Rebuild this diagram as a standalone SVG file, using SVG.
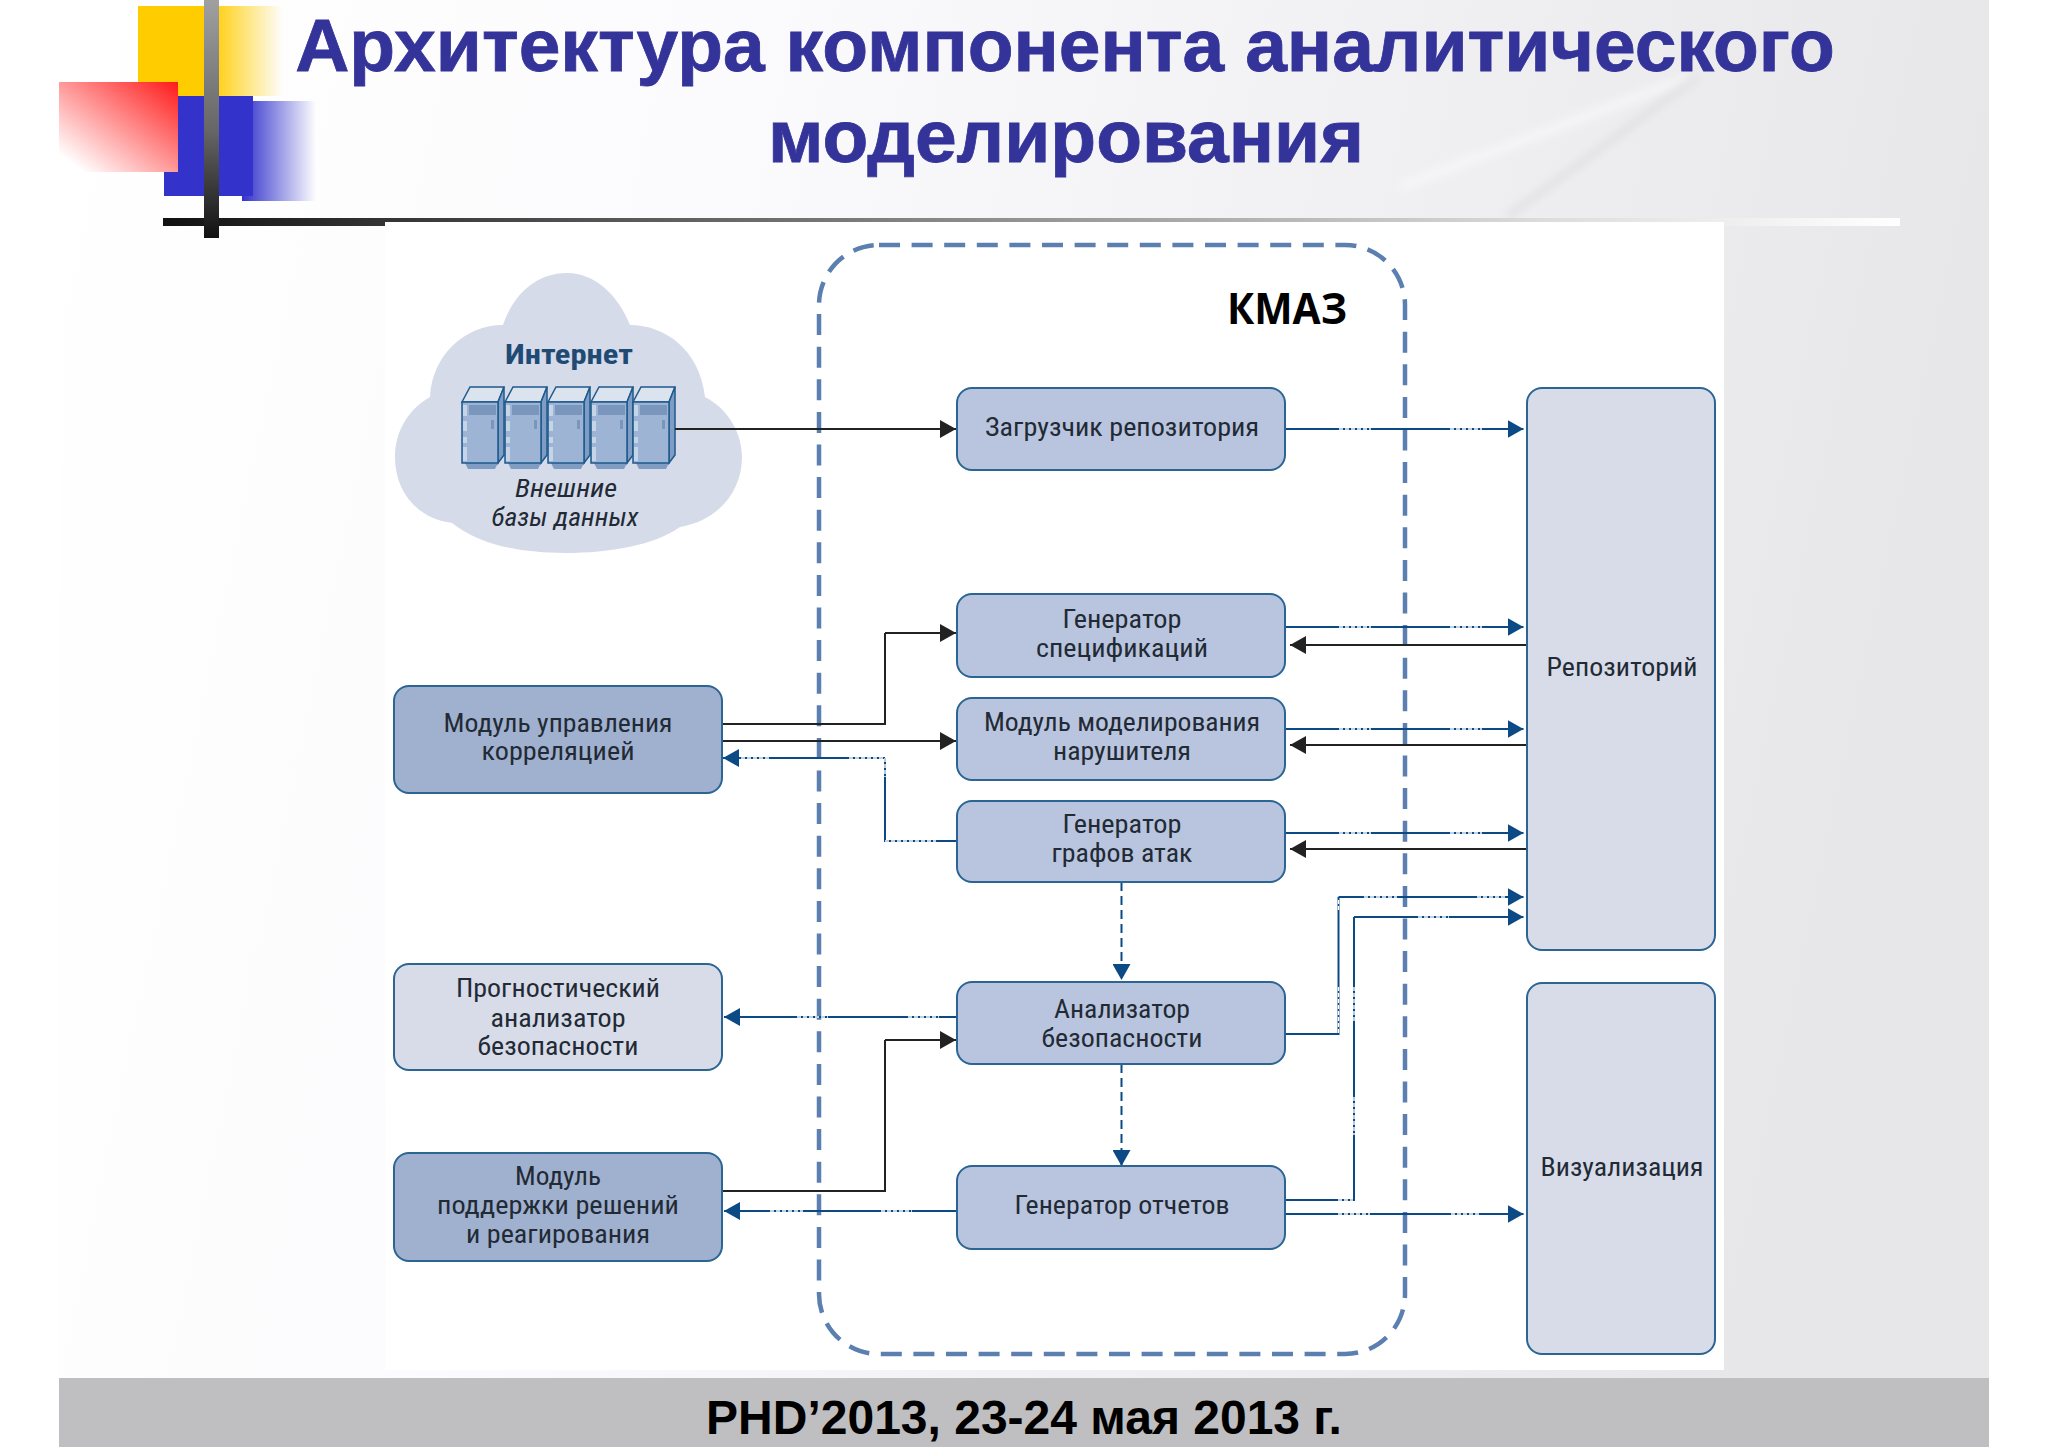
<svg xmlns="http://www.w3.org/2000/svg" xmlns:xlink="http://www.w3.org/1999/xlink" width="2048" height="1448" viewBox="0 0 2048 1448">
<defs>
<linearGradient id="bg" x1="0" y1="0" x2="1" y2="0.15"><stop offset="0" stop-color="#ffffff"/><stop offset="0.35" stop-color="#fbfbfd"/><stop offset="0.7" stop-color="#f0f0f2"/><stop offset="1" stop-color="#e7e7ea"/></linearGradient>
<linearGradient id="yel" x1="0" y1="0" x2="1" y2="0"><stop offset="0" stop-color="#ffcc00"/><stop offset="0.5" stop-color="#ffcc00"/><stop offset="1" stop-color="#ffcc00" stop-opacity="0"/></linearGradient>
<linearGradient id="blu" x1="0" y1="0" x2="1" y2="0"><stop offset="0" stop-color="#3333cc"/><stop offset="1" stop-color="#3333cc" stop-opacity="0"/></linearGradient>
<linearGradient id="red" x1="1" y1="0" x2="0" y2="1"><stop offset="0" stop-color="#ff1a1a"/><stop offset="0.9" stop-color="#ffffff"/></linearGradient>
<linearGradient id="bar" x1="0" y1="0" x2="0" y2="1"><stop offset="0" stop-color="#a0a0a0"/><stop offset="0.55" stop-color="#666"/><stop offset="1" stop-color="#111"/></linearGradient>
<linearGradient id="rule" x1="0" y1="0" x2="1" y2="0"><stop offset="0" stop-color="#111"/><stop offset="0.15" stop-color="#3a3a3a"/><stop offset="0.45" stop-color="#888"/><stop offset="0.8" stop-color="#ddd"/><stop offset="1" stop-color="#fff"/></linearGradient>
<filter id="soft" x="-20%" y="-20%" width="140%" height="140%"><feGaussianBlur stdDeviation="5"/></filter>
<marker id="ab" markerUnits="userSpaceOnUse" markerWidth="16" markerHeight="18" viewBox="0 0 16 18" refX="16" refY="9" orient="auto"><path d="M0,0L16,9L0,18Z" fill="#222222"/></marker>
<marker id="au" markerUnits="userSpaceOnUse" markerWidth="16" markerHeight="18" viewBox="0 0 16 18" refX="16" refY="9" orient="auto"><path d="M0,0L16,9L0,18Z" fill="#0b4a85"/></marker>
<g id="srv">
<path d="M0,15L8,0H42L36,15Z" fill="#dbe3ef" stroke="#1f5a8c" stroke-width="1.5"/>
<path d="M36,15L42,0V68L36,76Z" fill="#7f9cc4" stroke="#1f5a8c" stroke-width="1.5"/>
<path d="M3,76H36L33,82H6Z" fill="#7f9cc4"/>
<rect x="0" y="15" width="36" height="61" fill="#9db4d5" stroke="#1f5a8c" stroke-width="1.5"/>
<rect x="7" y="18" width="27" height="10" fill="#7b96bd"/>
<rect x="1" y="18" width="4" height="11" fill="#c6d4e8"/><rect x="1" y="34" width="4" height="10" fill="#c6d4e8"/><rect x="1" y="50" width="4" height="6" fill="#c6d4e8"/><rect x="1" y="60" width="4" height="14" fill="#c6d4e8"/>
<rect x="29" y="33" width="3" height="9" fill="#7b96bd"/>
</g>
</defs>
<style>
.n{stroke:#2a6594;stroke-width:2}
.d{fill:#a0b1cf}.m{fill:#b9c5de}.l{fill:#d8dce9}
text{font-family:"Liberation Sans Narrow","Roboto Condensed","Noto Sans",sans-serif;font-size:25px;fill:#222a35;text-anchor:middle}
.h{font-family:"Liberation Sans",Arial,sans-serif;font-weight:700;text-anchor:middle}
.t{font-size:75px;fill:#333399;stroke:#333399;stroke-width:0.8}
.c{fill:none;stroke-width:2}
.b{stroke:#222222;marker-end:url(#ab)}
.u{stroke:#0b4a85;marker-end:url(#au)}
.p{stroke:#0b4a85}
.k{stroke:#222222}
.w{fill:none;stroke:#ffffff;stroke-width:1.4;stroke-dasharray:4 2}
</style>

<g id="slide-background">
<rect x="0" y="0" width="2048" height="1448" fill="#ffffff"/>
<rect x="59" y="0" width="1930" height="1378" fill="url(#bg)"/>
<path d="M1400,187L1689,77" stroke="#f8f8fa" stroke-width="7" fill="none" filter="url(#soft)"/>
<path d="M1507,217L1697,77" stroke="#dcdcdf" stroke-width="5" fill="none" filter="url(#soft)"/>
<rect x="59" y="1378" width="1930" height="69" fill="#bfbec0"/>
</g>
<g id="decor">
<rect x="138" y="6" width="145" height="90" fill="url(#yel)"/>
<rect x="164" y="96" width="89" height="100" fill="#3333cc"/>
<rect x="242" y="101" width="74" height="100" fill="url(#blu)"/>
<rect x="59" y="82" width="119" height="90" fill="url(#red)"/>
<rect x="163" y="218" width="1737" height="8" fill="url(#rule)"/>
<rect x="204" y="0" width="15" height="238" fill="url(#bar)"/>
</g>
<rect id="picture" x="385" y="222" width="1339" height="1148" fill="#ffffff"/>

<g id="title">
<text class="h t" x="1065" y="71">Архитектура компонента аналитического</text>
<text class="h t" x="1066" y="162">моделирования</text>
</g>
<text id="footer" class="h" x="1024" y="1434" style="font-size:48px;fill:#000">PHD’2013, 23-24 мая 2013 г.</text>

<g id="cloud">
<path d="M503,325C515,290 540,273 567,273C595,273 618,295 630,325C665,325 700,350 705,397C730,410 742,435 742,457C742,490 720,520 680,527C655,545 610,553 565,553C520,553 480,545 452,523C415,518 395,490 395,457C395,430 410,408 430,397C432,355 465,325 503,325Z" fill="#d6dbe9"/>
<use xlink:href="#srv" href="#srv" x="462" y="387"/>
<use xlink:href="#srv" href="#srv" x="505" y="387"/>
<use xlink:href="#srv" href="#srv" x="548" y="387"/>
<use xlink:href="#srv" href="#srv" x="591" y="387"/>
<use xlink:href="#srv" href="#srv" x="633" y="387"/>
<text x="569" y="364" textLength="128" lengthAdjust="spacingAndGlyphs" style="font-weight:700;font-size:28px;fill:#1e4a73">Интернет</text>
<text x="566" y="497" textLength="102" lengthAdjust="spacingAndGlyphs" style="font-style:italic">Внешние</text>
<text x="565" y="526" textLength="147" lengthAdjust="spacingAndGlyphs" style="font-style:italic">базы данных</text>
</g>

<g id="kmaz">
<rect x="819" y="245" width="586" height="1109" rx="60" ry="60" fill="none" stroke="#5b7fae" stroke-width="4.5" stroke-dasharray="21 11.6"/>
<text x="1287" y="324" textLength="120" lengthAdjust="spacingAndGlyphs" style="font-family:'Open Sans','Liberation Sans',sans-serif;font-weight:700;font-size:43px;fill:#000">КМАЗ</text>
</g>

<g id="connectors">
<path class="c b" d="M675,429H956"/>
<path class="c u" d="M1285,429H1523.5"/>
<path class="c k" d="M722,724H885V633" /><path class="c b" d="M885,633H956"/>
<path class="c b" d="M722,741H956"/>
<path class="c p" d="M957,841H885V758"/><path class="c u" d="M885,758H723"/>
<path class="c u" d="M1285,627H1523.5"/><path class="c b" d="M1527,645H1290"/>
<path class="c u" d="M1285,729H1523.5"/><path class="c b" d="M1527,745H1290"/>
<path class="c u" d="M1285,833H1523.5"/><path class="c b" d="M1527,849H1290"/>
<path class="c u" d="M957,1017H724"/>
<path class="c k" d="M722,1191H885V1040"/><path class="c b" d="M885,1040H956"/>
<path class="c u" d="M957,1211H724"/>
<path class="c p" d="M1285,1034H1338.5V897"/><path class="c u" d="M1338.5,897H1523.5"/>
<path class="c p" d="M1285,1200H1354V917"/><path class="c u" d="M1354,917H1523.5"/>
<path class="c u" d="M1285,1214H1523.5"/>
<path class="c u" d="M1121.5,882V980" stroke-dasharray="9 5"/>
<path class="c u" d="M1121.5,1064V1166" stroke-dasharray="9 5"/>
<path class="w" d="M1339,429H1371M1450,429H1482M1339,627H1371M1450,627H1482M1339,729H1371M1450,729H1482M1339,833H1371M1450,833H1482M1364,897H1397M1477,897H1507M1418,917H1449M1338,1214H1370M1451,1214H1481M1338,1200H1353M1338.5,900V910M1338.5,987V1033M1354,987V1023M1354,1097V1135M797,1017H828M908,1017H939M770,1211H803M881,1211H912M741,758H770M849,758H885M885,758V777M885,841H936"/>
</g>

<g id="n-loader"><rect class="n m" x="957" y="388" width="328" height="82" rx="15"/><text x="1122" y="436" textLength="274" lengthAdjust="spacingAndGlyphs">Загрузчик репозитория</text></g>
<g id="n-spec"><rect class="n m" x="957" y="594" width="328" height="83" rx="15"/><text x="1122" y="628" textLength="119" lengthAdjust="spacingAndGlyphs">Генератор</text><text x="1122" y="657" textLength="172" lengthAdjust="spacingAndGlyphs">спецификаций</text></g>
<g id="n-model"><rect class="n m" x="957" y="698" width="328" height="82" rx="15"/><text x="1122" y="731" textLength="276" lengthAdjust="spacingAndGlyphs">Модуль моделирования</text><text x="1122" y="760" textLength="138" lengthAdjust="spacingAndGlyphs">нарушителя</text></g>
<g id="n-graph"><rect class="n m" x="957" y="801" width="328" height="81" rx="15"/><text x="1122" y="833" textLength="119" lengthAdjust="spacingAndGlyphs">Генератор</text><text x="1122" y="862" textLength="141" lengthAdjust="spacingAndGlyphs">графов атак</text></g>
<g id="n-analyzer"><rect class="n m" x="957" y="982" width="328" height="82" rx="15"/><text x="1122" y="1018" textLength="136" lengthAdjust="spacingAndGlyphs">Анализатор</text><text x="1122" y="1047" textLength="161" lengthAdjust="spacingAndGlyphs">безопасности</text></g>
<g id="n-report"><rect class="n m" x="957" y="1166" width="328" height="83" rx="15"/><text x="1122" y="1214" textLength="215" lengthAdjust="spacingAndGlyphs">Генератор отчетов</text></g>
<g id="n-corr"><rect class="n d" x="394" y="686" width="328" height="107" rx="15"/><text x="558" y="732" textLength="229" lengthAdjust="spacingAndGlyphs">Модуль управления</text><text x="558" y="760" textLength="153" lengthAdjust="spacingAndGlyphs">корреляцией</text></g>
<g id="n-prog"><rect class="n l" x="394" y="964" width="328" height="106" rx="15"/><text x="558" y="997" textLength="204" lengthAdjust="spacingAndGlyphs">Прогностический</text><text x="558" y="1027" textLength="135" lengthAdjust="spacingAndGlyphs">анализатор</text><text x="558" y="1055" textLength="161" lengthAdjust="spacingAndGlyphs">безопасности</text></g>
<g id="n-support"><rect class="n d" x="394" y="1153" width="328" height="108" rx="15"/><text x="558" y="1185" textLength="86" lengthAdjust="spacingAndGlyphs">Модуль</text><text x="558" y="1214" textLength="242" lengthAdjust="spacingAndGlyphs">поддержки решений</text><text x="558" y="1243" textLength="184" lengthAdjust="spacingAndGlyphs">и реагирования</text></g>
<g id="n-repo"><rect class="n l" x="1527" y="388" width="188" height="562" rx="15"/><text x="1622" y="676" textLength="151" lengthAdjust="spacingAndGlyphs">Репозиторий</text></g>
<g id="n-vis"><rect class="n l" x="1527" y="983" width="188" height="371" rx="15"/><text x="1622" y="1176" textLength="163" lengthAdjust="spacingAndGlyphs">Визуализация</text></g>
</svg>
